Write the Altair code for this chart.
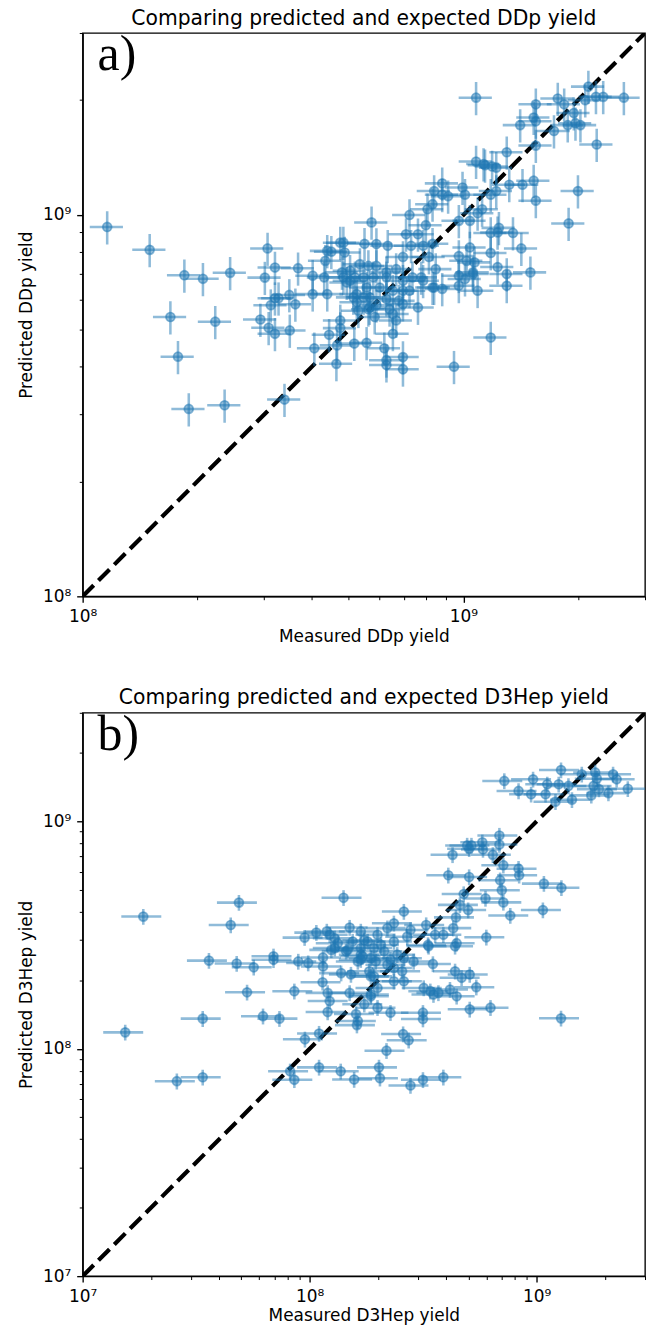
import altair as alt
import pandas as pd

# ---------------- data ----------------
ddp_measured = [
    1.16e8, 1.50e8, 1.85e8, 2.07e8, 2.44e8, 1.70e8, 2.23e8, 1.78e8, 1.90e8, 2.36e8,
    3.39e8, 3.06e8, 3.20e8, 3.01e8, 3.68e8, 3.20e8, 3.27e8, 3.49e8, 3.12e8, 3.62e8,
    2.93e8, 3.08e8, 3.20e8, 3.50e8, 4.02e8, 4.31e8, 4.34e8, 4.50e8, 4.75e8, 4.84e8,
    4.88e8, 5.50e8, 5.74e8, 4.02e8, 4.39e8, 4.06e8, 4.44e8, 4.75e8, 4.66e8, 4.64e8,
    5.17e8, 5.57e8, 5.35e8, 5.63e8, 5.04e8, 5.04e8, 5.14e8, 5.47e8, 5.67e8, 5.19e8,
    4.84e8, 4.94e8, 4.39e8, 5.91e8, 6.33e8, 6.94e8, 7.29e8, 7.84e8, 8.12e8, 8.46e8,
    4.80e8, 5.91e8, 6.28e8, 6.66e8, 5.47e8, 5.80e8, 6.28e8, 6.94e8, 7.35e8, 6.03e8,
    6.53e8, 6.94e8, 7.22e8, 7.84e8, 8.30e8, 8.80e8, 5.57e8, 5.25e8, 5.68e8, 6.28e8,
    6.77e8, 5.25e8, 5.91e8, 6.40e8, 6.94e8, 7.60e8, 5.30e8, 5.63e8, 5.85e8, 6.53e8,
    6.66e8, 6.53e8, 6.20e8, 6.28e8, 6.28e8, 6.94e8, 6.94e8, 9.45e8, 9.73e8, 1.04e9,
    1.02e9, 1.07e9, 9.73e8, 1.01e9, 1.06e9, 1.09e9, 9.73e8, 1.08e9, 1.08e9, 1.13e9,
    8.80e8, 8.38e8, 9.12e8, 9.95e8, 1.01e9, 8.30e8, 8.05e8, 7.22e8, 7.97e8, 7.60e8,
    7.07e8, 9.73e8, 1.04e9, 1.09e9, 1.55e9, 1.77e9, 1.84e9, 2.13e9, 2.09e9, 2.23e9,
    2.33e9, 2.64e9, 1.53e9, 1.55e9, 1.41e9, 1.73e9, 1.88e9, 1.95e9, 1.97e9, 2.03e9,
    2.24e9, 1.55e9, 1.30e9, 1.14e9, 1.19e9, 1.22e9, 1.32e9, 1.43e9, 1.53e9, 1.55e9,
    2.00e9, 1.89e9, 1.18e9, 1.22e9, 1.12e9, 1.18e9, 1.24e9, 1.35e9, 1.42e9, 1.18e9,
    1.06e9, 1.23e9, 1.30e9, 1.30e9, 1.50e9, 1.18e9, 8.30e8, 4.75e8, 1.23e9, 8.80e8,
    7.75e8, 8.38e8,
]
ddp_predicted = [
    9.30e8, 8.10e8, 6.95e8, 6.80e8, 7.05e8, 5.40e8, 5.25e8, 4.25e8, 3.10e8, 3.17e8,
    3.28e8, 8.17e8, 7.28e8, 6.85e8, 7.25e8, 6.05e8, 6.05e8, 6.17e8, 5.80e8, 5.83e8,
    5.32e8, 5.06e8, 4.88e8, 4.98e8, 6.93e8, 6.86e8, 7.58e8, 8.01e8, 8.46e8, 8.46e8,
    7.97e8, 8.40e8, 9.56e8, 6.20e8, 6.20e8, 4.47e8, 4.85e8, 5.29e8, 4.55e8, 4.07e8,
    4.60e8, 4.62e8, 7.43e8, 7.35e8, 7.14e8, 6.72e8, 6.08e8, 6.08e8, 5.72e8, 6.86e8,
    6.86e8, 6.65e8, 8.05e8, 8.39e8, 8.30e8, 7.76e8, 8.30e8, 8.30e8, 7.76e8, 7.21e8,
    7.07e8, 7.35e8, 7.07e8, 7.21e8, 6.86e8, 6.86e8, 6.86e8, 6.72e8, 6.86e8, 6.45e8,
    6.33e8, 6.33e8, 6.33e8, 6.72e8, 6.45e8, 6.40e8, 6.45e8, 6.20e8, 6.08e8, 6.02e8,
    5.96e8, 5.90e8, 5.80e8, 5.66e8, 5.84e8, 5.72e8, 5.61e8, 5.66e8, 5.40e8, 5.50e8,
    5.29e8, 4.88e8, 4.47e8, 4.16e8, 4.04e8, 4.24e8, 3.94e8, 4.00e8, 7.80e8, 8.22e8,
    7.58e8, 7.51e8, 6.93e8, 6.79e8, 7.07e8, 6.33e8, 6.52e8, 2.03e9, 1.38e9, 1.36e9,
    1.21e9, 1.155e9, 1.12e9, 1.18e9, 1.13e9, 1.067e9, 1.035e9, 1.00e9, 9.40e8, 8.90e8,
    8.90e8, 9.65e8, 9.65e8, 1.01e9, 1.95e9, 2.02e9, 1.95e9, 2.17e9, 2.00e9, 2.04e9,
    2.04e9, 2.03e9, 1.80e9, 1.76e9, 1.72e9, 1.66e9, 1.72e9, 1.85e9, 1.74e9, 1.72e9,
    1.53e9, 1.52e9, 1.46e9, 1.35e9, 1.34e9, 1.33e9, 1.20e9, 1.20e9, 1.23e9, 1.09e9,
    1.155e9, 9.50e8, 1.13e9, 1.155e9, 1.035e9, 8.97e8, 9.25e8, 8.97e8, 8.17e8, 7.95e8,
    7.00e8, 7.30e8, 7.00e8, 6.52e8, 7.07e8, 4.77e8, 8.40e8, 5.05e8, 9.00e8, 1.13e9,
    6.86e8, 6.45e8,
]

d3hep_measured = [
    1.85e7, 4.88e7, 4.49e7, 3.60e7, 4.77e7, 5.67e7, 6.93e7, 6.93e7, 8.91e7, 9.85e7,
    5.30e7, 8.56e7, 3.38e7, 6.23e7, 7.36e7, 1.54e7, 9.53e7, 1.10e8, 2.60e7, 3.38e7,
    8.20e7, 8.56e7, 1.10e8, 1.37e8, 1.57e8, 1.41e8, 9.50e7, 1.07e8, 1.19e8, 1.50e8,
    1.68e8, 1.145e8, 1.145e8, 1.376e8, 1.52e8, 1.14e8, 1.20e8, 1.225e8, 1.50e8, 1.20e8,
    1.615e8, 1.86e8, 1.29e8, 1.71e8, 1.86e8, 1.86e8, 1.74e8, 1.63e8, 1.68e8, 1.47e8,
    1.29e8, 1.63e8, 7.20e8, 9.64e8, 1.28e9, 8.32e8, 9.45e8, 1.094e9, 1.113e9, 1.25e9,
    1.38e9, 1.21e9, 1.43e9, 1.58e9, 1.81e9, 1.84e9, 2.17e9, 2.25e9, 1.78e9, 1.88e9,
    1.74e9, 2.07e9, 2.52e9, 4.26e8, 4.94e8, 5.04e8, 5.16e8, 5.76e8, 5.80e8, 6.85e8,
    6.85e8, 6.41e8, 7.13e8, 8.32e8, 8.37e8, 4.08e8, 5.04e8, 6.90e8, 7.02e8, 7.13e8,
    5.95e8, 4.77e8, 4.59e8, 4.99e8, 1.076e9, 1.285e9, 1.065e9, 7.65e8, 2.60e8, 2.35e8,
    4.41e8, 4.29e8, 3.26e8, 2.78e8, 6.00e8, 4.44e8, 4.37e8, 3.88e8, 3.57e8, 3.32e8,
    1.225e8, 1.99e8, 2.20e8, 2.69e8, 1.33e8, 1.547e8, 1.80e8, 2.06e8, 2.35e8, 1.246e8,
    1.447e8, 1.68e8, 1.92e8, 2.13e8, 2.43e8, 1.68e8, 1.955e8, 2.27e8, 2.60e8, 1.83e8,
    2.20e8, 2.35e8, 2.555e8, 2.87e8, 3.34e8, 3.49e8, 4.37e8, 4.67e8, 5.07e8, 5.42e8,
    3.18e8, 3.40e8, 3.69e8, 3.51e8, 4.15e8, 4.44e8, 2.35e8, 2.60e8, 1.92e8, 1.99e8,
    1.86e8, 1.74e8, 1.99e8, 2.27e8, 1.60e8, 3.155e8, 3.155e8, 5.07e8, 6.26e8, 1.28e9,
    2.58e8, 2.73e8, 2.18e8, 2.02e8, 2.04e8, 2.78e8, 3.155e8, 3.88e8,
]
d3hep_predicted = [
    3.81e8, 4.39e8, 3.50e8, 2.44e8, 2.37e8, 2.28e8, 2.55e8, 2.46e8, 2.42e8, 2.38e8,
    1.77e8, 1.79e8, 1.356e8, 1.39e8, 1.356e8, 1.18e8, 1.10e8, 1.166e8, 7.20e7, 7.49e7,
    7.96e7, 7.30e7, 8.28e7, 7.96e7, 7.32e7, 4.61e8, 3.08e8, 3.24e8, 3.28e8, 3.41e8,
    3.28e8, 2.52e8, 2.30e8, 2.15e8, 2.12e8, 1.96e8, 1.76e8, 1.62e8, 1.76e8, 1.45e8,
    1.27e8, 2.08e8, 2.77e8, 2.55e8, 2.50e8, 1.70e8, 3.00e8, 2.42e8, 2.77e8, 2.72e8,
    3.06e8, 1.325e8, 1.505e9, 1.53e9, 1.68e9, 1.36e9, 1.315e9, 1.315e9, 1.455e9, 1.455e9,
    1.43e9, 1.22e9, 1.244e9, 1.61e9, 1.64e9, 1.54e9, 1.61e9, 1.53e9, 1.43e9, 1.385e9,
    1.30e9, 1.33e9, 1.39e9, 7.12e8, 7.83e8, 7.57e8, 7.83e8, 8.09e8, 7.52e8, 8.66e8,
    7.90e8, 7.12e8, 6.41e8, 6.19e8, 5.79e8, 5.79e8, 5.69e8, 5.51e8, 4.98e8, 4.40e8,
    4.58e8, 4.79e8, 4.29e8, 4.07e8, 5.32e8, 5.10e8, 4.07e8, 3.85e8, 4.01e8, 3.56e8,
    3.78e8, 3.39e8, 3.50e8, 3.33e8, 3.09e8, 2.91e8, 2.82e8, 3.17e8, 3.17e8, 2.86e8,
    3.17e8, 3.17e8, 3.39e8, 3.11e8, 2.91e8, 2.96e8, 2.96e8, 2.86e8, 2.96e8, 2.72e8,
    2.68e8, 2.59e8, 2.77e8, 2.68e8, 2.59e8, 2.465e8, 2.42e8, 2.465e8, 2.50e8, 2.19e8,
    2.34e8, 2.265e8, 2.19e8, 2.42e8, 2.82e8, 2.36e8, 2.19e8, 2.05e8, 2.12e8, 1.865e8,
    1.85e8, 1.79e8, 1.76e8, 1.73e8, 1.82e8, 1.70e8, 1.98e8, 1.98e8, 2.08e8, 1.85e8,
    1.73e8, 1.57e8, 1.515e8, 1.44e8, 1.42e8, 1.44e8, 1.35e8, 1.49e8, 1.515e8, 1.36e8,
    1.16e8, 1.09e8, 9.80e7, 8.28e7, 7.42e7, 6.89e7, 7.30e7, 7.49e7,
]

# relative error bar half-widths
ddp_rel_err_measured = 0.10
ddp_rel_err_predicted = 0.10
d3hep_rel_err_measured = 0.20
d3hep_rel_err_predicted = 0.08

ddp_limits = [1e8, 3e9]
d3hep_limits = [1e7, 3e9]

BLUE = "#1f77b4"
FONT = "DejaVu Sans"


def table(meas, pred, ex, ey):
    df = pd.DataFrame({"x": meas, "y": pred})
    df["xlo"] = df["x"] * (1 - ex)
    df["xhi"] = df["x"] * (1 + ex)
    df["ylo"] = df["y"] * (1 - ey)
    df["yhi"] = df["y"] * (1 + ey)
    return df


def tick_values(lo, hi):
    vals = []
    e = 0
    while 10 ** e <= hi:
        for m in range(1, 10):
            v = m * 10 ** e
            if lo <= v <= hi:
                vals.append(v)
        e += 1
    return vals


MAJOR = "datum.value == 10000000 || datum.value == 100000000 || datum.value == 1000000000"
LABELS = ("datum.value == 10000000 ? '10\u2077' : datum.value == 100000000 ? '10\u2078' : "
          "datum.value == 1000000000 ? '10\u2079' : ''")


def make_axis(title, vals, orient):
    opts = dict(
        title=title,
        values=vals,
        labelExpr=LABELS,
        grid=False,
        labelOverlap=False,
        labelFlush=False,
        labelFontSize={"condition": {"test": MAJOR, "value": 17}, "value": 1},
        tickSize={"condition": {"test": MAJOR, "value": 6}, "value": 3.4},
        tickWidth={"condition": {"test": MAJOR, "value": 1.36}, "value": 1.0},
    )
    if orient == "left":
        opts.update(labelPadding=6, titlePadding=7, minExtent=40, maxExtent=40)
    else:
        opts.update(labelPadding=6, titlePadding=4)
    return alt.Axis(**opts)


def panel(df, limits, title, xtitle, ytitle, label, w, h):
    vals = tick_values(limits[0], limits[1])
    xs = alt.Scale(type="log", domain=limits, nice=False)
    ys = alt.Scale(type="log", domain=limits, nice=False)
    xa = make_axis(xtitle, vals, "bottom")
    ya = make_axis(ytitle, vals, "left")

    diag = alt.Chart(pd.DataFrame({"v": limits})).mark_line(
        color="black", strokeWidth=4.2, strokeDash=[15.7, 6.8], clip=True
    ).encode(x=alt.X("v:Q", scale=xs, axis=xa), y=alt.Y("v:Q", scale=ys, axis=ya))

    base = alt.Chart(df)
    hbar = base.mark_rule(color=BLUE, opacity=0.5, strokeWidth=2.55, clip=True).encode(
        x=alt.X("xlo:Q", scale=xs, axis=xa), x2="xhi:Q", y=alt.Y("y:Q", scale=ys, axis=ya)
    )
    vbar = base.mark_rule(color=BLUE, opacity=0.5, strokeWidth=2.55, clip=True).encode(
        x=alt.X("x:Q", scale=xs, axis=xa), y=alt.Y("ylo:Q", scale=ys, axis=ya), y2="yhi:Q"
    )
    pts = base.mark_circle(
        color=BLUE, size=82, fillOpacity=0.5, stroke=BLUE, strokeWidth=1.7,
        strokeOpacity=0.5, clip=True
    ).encode(x=alt.X("x:Q", scale=xs, axis=xa), y=alt.Y("y:Q", scale=ys, axis=ya))

    lab = alt.Chart(pd.DataFrame({"t": [label]})).mark_text(
        font="Liberation Serif", fontSize=50, align="left", baseline="alphabetic", color="black"
    ).encode(text="t:N", x=alt.value(15), y=alt.value(37))

    return alt.layer(diag, hbar, vbar, pts, lab).properties(
        width=w, height=h,
        title=alt.TitleParams(title, frame="group", offset=1),
    )


ddp = table(ddp_measured, ddp_predicted, ddp_rel_err_measured, ddp_rel_err_predicted)
d3 = table(d3hep_measured, d3hep_predicted, d3hep_rel_err_measured, d3hep_rel_err_predicted)

top = panel(ddp, ddp_limits, "Comparing predicted and expected DDp yield",
            "Measured DDp yield", "Predicted DDp yield", "a)", 565, 566)
bottom = panel(d3, d3hep_limits, "Comparing predicted and expected D3Hep yield",
               "Measured D3Hep yield", "Predicted D3Hep yield", "b)", 565, 566)

chart = alt.vconcat(top, bottom, spacing=42).properties(
    padding={"left": 9, "top": -4, "right": 0, "bottom": 0}
).configure_view(
    stroke="black", strokeWidth=1.36
).configure_axis(
    domainColor="black", domainWidth=1.36, tickColor="black",
    labelFont=FONT, labelColor="black",
    titleFont=FONT, titleFontSize=17, titleFontWeight="normal", titleColor="black",
).configure_title(
    font=FONT, fontSize=20.4, fontWeight="normal", color="black", anchor="middle"
)

chart.save("out.html", embed_options={"renderer": "svg", "actions": False})
